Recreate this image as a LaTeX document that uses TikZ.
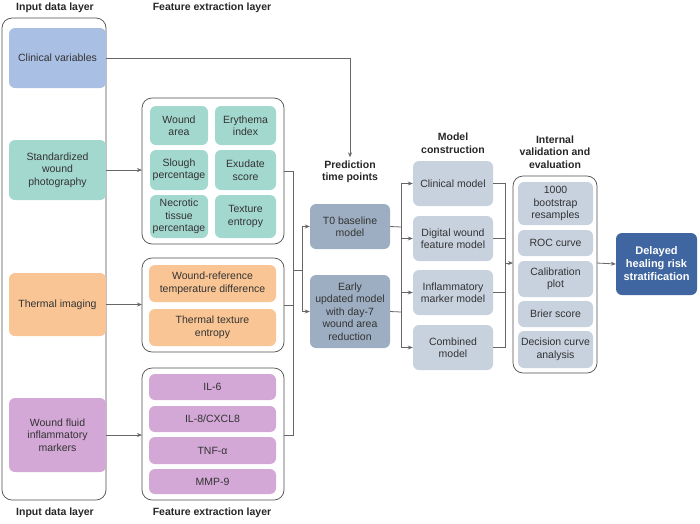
\documentclass[tikz,border=0pt]{standalone}
\usepackage{fontspec}
\setmainfont{Liberation Sans}
\usetikzlibrary{arrows.meta}
\definecolor{cblue}{HTML}{A9BFE3}
\definecolor{cteal}{HTML}{A3D8CF}
\definecolor{corange}{HTML}{F9C594}
\definecolor{cpurple}{HTML}{D3A8D6}
\definecolor{cdark}{HTML}{9DAEC2}
\definecolor{clight}{HTML}{C8D2DF}
\definecolor{cfinal}{HTML}{3F66A0}
\definecolor{cline}{HTML}{666666}
\tikzset{
 box/.style={rounded corners=6pt, draw=none, align=center, font=\fontsize{10.5}{12.5}\selectfont, text=black!80},
 outl/.style={rounded corners=10pt, draw=black!70, line width=0.7pt},
 hdr/.style={font=\bfseries\fontsize{10.5}{12.5}\selectfont, align=center, text=black!85},
 conn/.style={draw=cline, line width=0.8pt},
 arr/.style={conn, -{Stealth[length=5pt,width=4pt]}}
}
\newcommand{\bx}[6]{\node[box, fill=#5, minimum width=#3pt-#1pt, minimum height=#4pt-#2pt, inner sep=1pt] (#6) at ({(#1+#3)/2},{(#2+#4)/2}) {};}
\begin{document}
\begin{tikzpicture}[x=1pt,y=-1pt]
\useasboundingbox (0,0) rectangle (700,523);
% headers
\node[hdr] (h1) at (55,8) {Input data layer};
\node[hdr] (h2) at (55,513) {Input data layer};
\node[hdr] (h3) at (212,8) {Feature extraction layer};
\node[hdr] (h4) at (212,513) {Feature extraction layer};
\node[hdr] (h5) at (350,172) {Prediction\\time points};
\node[hdr] (h6) at (453,143) {Model\\construction};
\node[hdr] (h7) at (555,152) {Internal\\validation and\\evaluation};
% outlines
\draw[outl] (2,18) rectangle (106,500);
\draw[outl] (142,98) rectangle (284,244);
\draw[outl] (142,258) rectangle (284,352);
\draw[outl] (142,368) rectangle (284,500);
\draw[outl] (513,176) rectangle (597,373);
% input boxes
\bx{9}{28}{106}{88}{cblue}{cv}\node[box] at (cv) {Clinical variables};
\bx{9}{140}{106}{200}{cteal}{sw}\node[box] at (sw) {Standardized\\wound\\photography};
\bx{9}{273}{106}{336}{corange}{ti}\node[box] at (ti) {Thermal imaging};
\bx{9}{398}{106}{472}{cpurple}{wf}\node[box] at (wf) {Wound fluid\\inflammatory\\markers};
% group 1
\bx{150}{106}{208}{145}{cteal}{g1a}\node[box] at (g1a) {Wound\\area};
\bx{215}{106}{276}{145}{cteal}{g1b}\node[box] at (g1b) {Erythema\\index};
\bx{150}{150}{208}{190}{cteal}{g1c}\node[box] at (g1c) {Slough\\percentage};
\bx{215}{150}{276}{190}{cteal}{g1d}\node[box] at (g1d) {Exudate\\score};
\bx{150}{195}{208}{238}{cteal}{g1e}\node[box] at (g1e) {Necrotic\\tissue\\percentage};
\bx{215}{195}{276}{238}{cteal}{g1f}\node[box] at (g1f) {Texture\\entropy};
% group 2
\bx{149}{265}{276}{302}{corange}{g2a}\node[box] at (g2a) {Wound-reference\\temperature difference};
\bx{149}{309}{276}{346}{corange}{g2b}\node[box] at (g2b) {Thermal texture\\entropy};
% group 3
\bx{149}{374}{276}{400}{cpurple}{g3a}\node[box] at (g3a) {IL-6};
\bx{149}{406}{276}{432}{cpurple}{g3b}\node[box] at (g3b) {IL-8/CXCL8};
\bx{149}{437}{276}{464}{cpurple}{g3c}\node[box] at (g3c) {TNF-α};
\bx{149}{469}{276}{494}{cpurple}{g3d}\node[box] at (g3d) {MMP-9};
% prediction
\bx{310}{204}{390}{249}{cdark}{t0}\node[box] at (t0) {T0 baseline\\model};
\bx{310}{275}{390}{348}{cdark}{ea}\node[box] at (ea) {Early\\updated model\\with day-7\\wound area\\reduction};
% models
\bx{413}{161}{493}{206}{clight}{m1}\node[box] at (m1) {Clinical model};
\bx{413}{216}{493}{261}{clight}{m2}\node[box] at (m2) {Digital wound\\feature model};
\bx{413}{270}{493}{315}{clight}{m3}\node[box] at (m3) {Inflammatory\\marker model};
\bx{413}{325}{493}{370}{clight}{m4}\node[box] at (m4) {Combined\\model};
% validation
\bx{518}{182}{593}{225}{clight}{v1}\node[box] at (v1) {1000\\bootstrap\\resamples};
\bx{518}{230}{593}{256}{clight}{v2}\node[box] at (v2) {ROC curve};
\bx{518}{261}{593}{297}{clight}{v3}\node[box] at (v3) {Calibration\\plot};
\bx{518}{301}{593}{327}{clight}{v4}\node[box] at (v4) {Brier score};
\bx{518}{331}{593}{368}{clight}{v5}\node[box] at (v5) {Decision curve\\analysis};
% final
\bx{616}{233}{697}{295}{cfinal}{fin}\node[box, text=white, font=\bfseries\fontsize{11}{13}\selectfont] at (fin) {Delayed\\healing risk\\stratification};
% connectors
\coordinate (vo) at (513,263);
\draw[arr] (cv.east) -| (h5.north);
\draw[arr] (sw.east) -- (142,170);
\draw[arr] (ti.east) -- (142,304.5);
\draw[arr] (wf.east) -- (142,435);
\draw[conn] (284,171) -- (293,171) -- (293,435) -- (284,435);
\draw[conn] (284,305) -- (293,305);
\draw[conn] (293,270) -- (302,270);
\draw[arr] (302,227) |- (t0.west);
\draw[arr] (302,270) |- (ea.west);
\draw[conn] (302,227) -- (302,270);
\draw[conn] (t0.east) -- (401,227);
\draw[conn] (ea.east) -- (401,312);
\draw[arr] (401,250) |- (m1.west);
\draw[arr] (401,250) |- (m2.west);
\draw[arr] (401,250) |- (m3.west);
\draw[arr] (401,250) |- (m4.west);
\draw[conn] (m1.east) -| (505,263);
\draw[conn] (m2.east) -| (505,263);
\draw[conn] (m3.east) -| (505,263);
\draw[conn] (m4.east) -| (505,263);
\draw[arr] (505,263) -- (vo);
\draw[arr] (597,263) -- (fin.west);
\end{tikzpicture}
\end{document}
